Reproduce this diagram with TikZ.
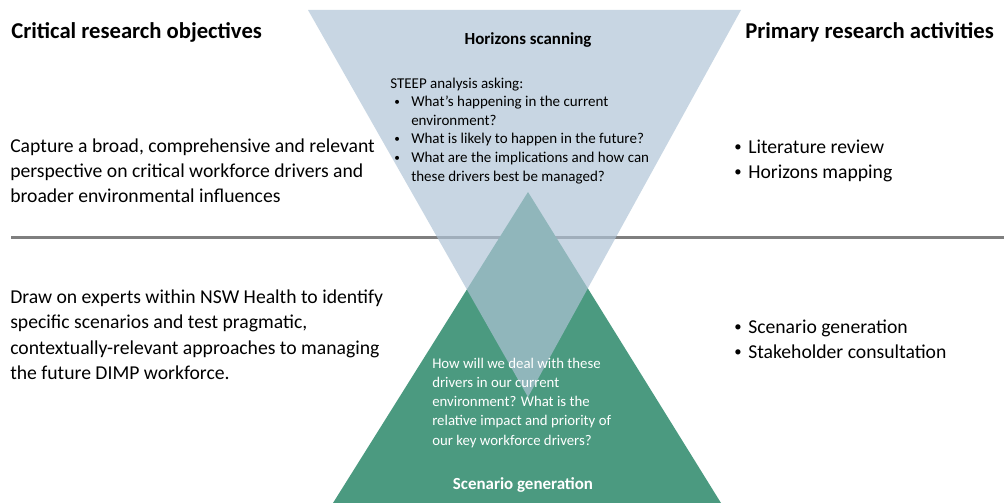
\documentclass[tikz,border=0pt]{standalone}
\usepackage{fontspec}
\usepackage{graphicx}
\setmainfont{Carlito}
\definecolor{scanblue}{HTML}{AFC4D6}
\definecolor{scengreen}{HTML}{4B9A80}
\definecolor{rulegray}{HTML}{7F7F7F}
\newcommand{\dotmark}{\raisebox{0.08em}{\scalebox{0.75}{\textbullet}}}
\newcommand{\bul}{\makebox[10.5pt][l]{\dotmark}}
\newcommand{\tribul}{\hspace*{3pt}\makebox[12.75pt][l]{\dotmark}}
\tikzset{
    heading/.style={anchor=base west, inner sep=0pt, font=\bfseries\fontsize{17}{20}\selectfont},
    bodytext/.style={anchor=base west, inner sep=0pt, align=left, font=\fontsize{14.75}{18.9}\selectfont},
    tritext/.style={anchor=base west, inner sep=0pt, align=left, font=\fontsize{11.25}{13.9}\selectfont},
    trititle/.style={anchor=base, inner sep=0pt, font=\bfseries\fontsize{12.7}{15}\selectfont}
}
\begin{document}
\begin{tikzpicture}[x=0.75pt, y=-0.75pt]
        \useasboundingbox (0,0) rectangle (1004,503);
        % corners of the two triangles
        \coordinate (scanL) at (308,10);
        \coordinate (scanR) at (741,10);
        \coordinate (scanTip) at (528,397);
        \coordinate (scenL) at (333,503);
        \coordinate (scenR) at (721,503);
        \coordinate (scenTip) at (528,192);
        \coordinate (ruleL) at (11,237);
        \coordinate (ruleR) at (1004,237);
        \draw[rulegray, line width=2.25pt] (ruleL) -- (ruleR);
        \fill[scengreen] (scenL) -- (scenTip) -- (scenR) -- cycle;
        \fill[scanblue, opacity=0.69] (scanL) -- (scanR) -- (scanTip) -- cycle;
        % column headings
        \node[heading] (objhead) at (11,39) {Critical research objectives};
        \node[heading] (acthead) at (745,39) {Primary research activities};
        % objectives (base = last line)
        \node[bodytext] (obj1) at (10,202.7) {Capture a broad, comprehensive and relevant\\perspective on critical workforce drivers and\\broader environmental influences};
        \node[bodytext] (obj2) at (10,379.3) {Draw on experts within NSW Health to identify\\specific scenarios and test pragmatic,\\contextually-relevant approaches to managing\\the future DIMP workforce.};
        % activities
        \node[bodytext] (act1) at (734,178.5) {\bul Literature review\\\bul Horizons mapping};
        \node[bodytext] (act2) at (734,358.5) {\bul Scenario generation\\\bul Stakeholder consultation};
        % inside the triangles
        \node[trititle] (scantitle) at (528,45) {Horizons scanning};
        \node[tritext] (steep) at (390,181) {STEEP analysis asking:\\
            \tribul What’s happening in the current\\
            \hspace*{15.75pt}environment?\\
            \tribul What is likely to happen in the future?\\
            \tribul What are the implications and how can\\
            \hspace*{15.75pt}these drivers best be managed?};
        \node[tritext, white, font=\fontsize{11.1}{14.4}\selectfont] (howdeal) at (432,445.1) {How will we deal with these\\drivers in our current\\environment? What is the\\relative impact and priority of\\our key workforce drivers?};
        \node[trititle, white] (scentitle) at (523,489) {Scenario generation};
    \end{tikzpicture}
\end{document}
